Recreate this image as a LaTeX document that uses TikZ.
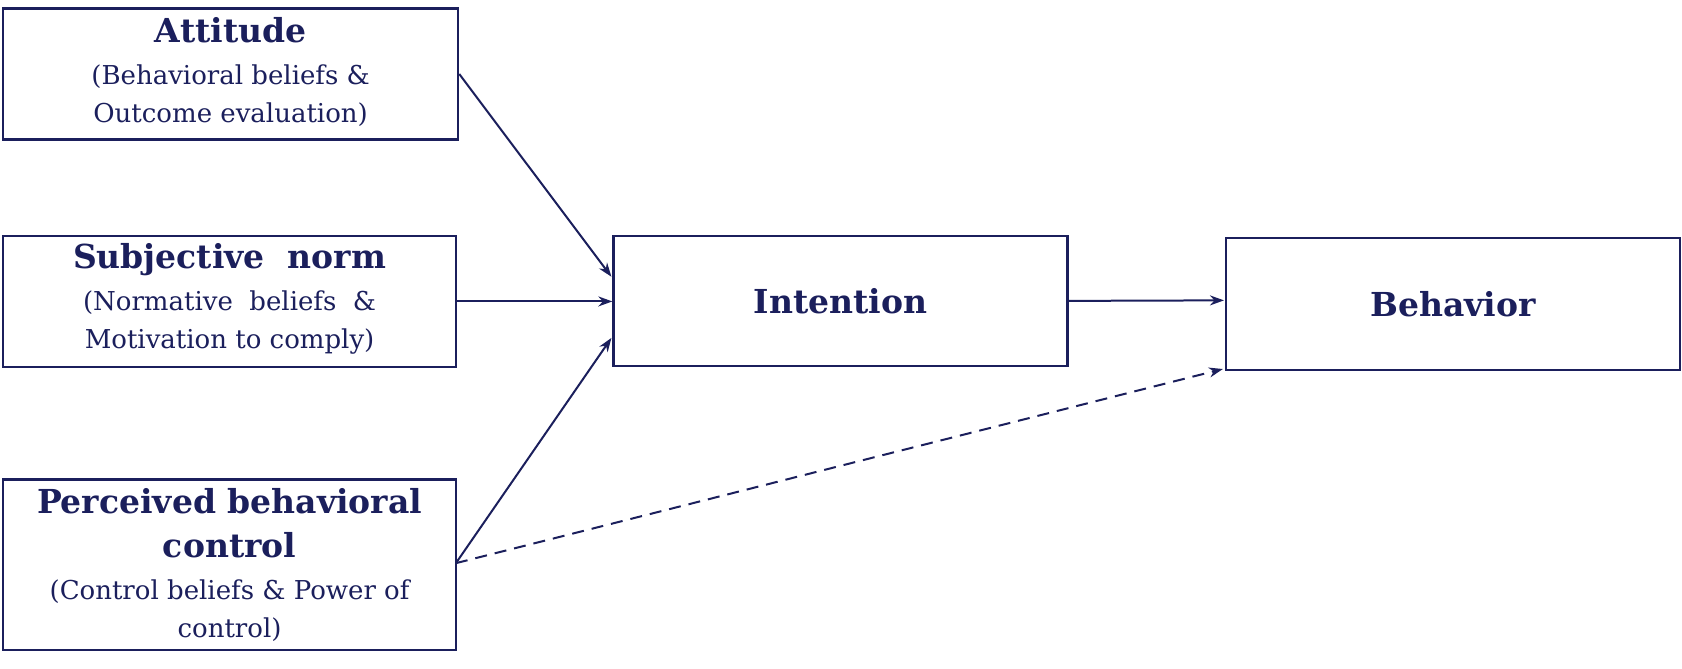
\documentclass[tikz,border=0pt]{standalone}
\usepackage{fontspec}
\setmainfont{DejaVu Serif}
\usetikzlibrary{arrows.meta}
\definecolor{navy}{HTML}{1B1F5C}
\begin{document}
\begin{tikzpicture}[x=0.5365pt,y=-0.5365pt,
  box/.style={draw=navy,line width=1.2pt,text=navy,align=center,inner sep=0pt},
  arr/.style={draw=navy,line width=1pt,-{Stealth[length=7pt,width=5pt]}},
  lbl/.style={text=navy,align=center,font=\fontsize{13}{19}\selectfont}]
\newcommand\ttlf{\fontsize{16.5}{20}\selectfont\bfseries}
\newcommand\subf{\fontsize{13}{19}\selectfont}
\useasboundingbox (0,0) rectangle (1568,623);
\node[box,minimum width=227.5pt,minimum height=65.5pt] (att) at (215,69) {};
\node[lbl] at (215,67) {{\ttlf Attitude}\\[2pt]{\subf (Behavioral beliefs \&}\\{\subf Outcome evaluation)}};
\node[box,minimum width=226.5pt,minimum height=65.5pt] (sub) at (214,281) {};
\node[lbl] at (214,279) {{\ttlf Subjective\ \ norm}\\[2pt]{\subf (Normative\ \ beliefs\ \ \&}\\{\subf Motivation to comply)}};
\node[box,minimum width=226.5pt,minimum height=85.3pt] (pbc) at (214,526.5) {};
\node[lbl] at (214,526.5) {{\ttlf Perceived behavioral}\\[3pt]{\ttlf control}\\[2pt]{\subf (Control beliefs \& Power of}\\{\subf control)}};
\node[box,minimum width=227pt,minimum height=65pt,font=\ttlf] (int) at (783.5,280.5) {Intention};
\node[box,minimum width=227pt,minimum height=66pt,font=\ttlf] (beh) at (1354.5,283.5) {Behavior};
\coordinate (i1) at (570,258);
\coordinate (i3) at (570,315);
\coordinate (b1) at (1141,280);
\coordinate (b2) at (1140,344);
\coordinate (p1) at (425,525);
\draw[arr] (att.east) -- (i1);
\draw[arr] (sub.east) -- (int.west |- sub.east);
\draw[arr] (p1) -- (i3);
\draw[arr] (int.east) -- (b1);
\draw[arr,dashed,dash pattern=on 6pt off 4pt] (p1) -- (b2);
\end{tikzpicture}
\end{document}
